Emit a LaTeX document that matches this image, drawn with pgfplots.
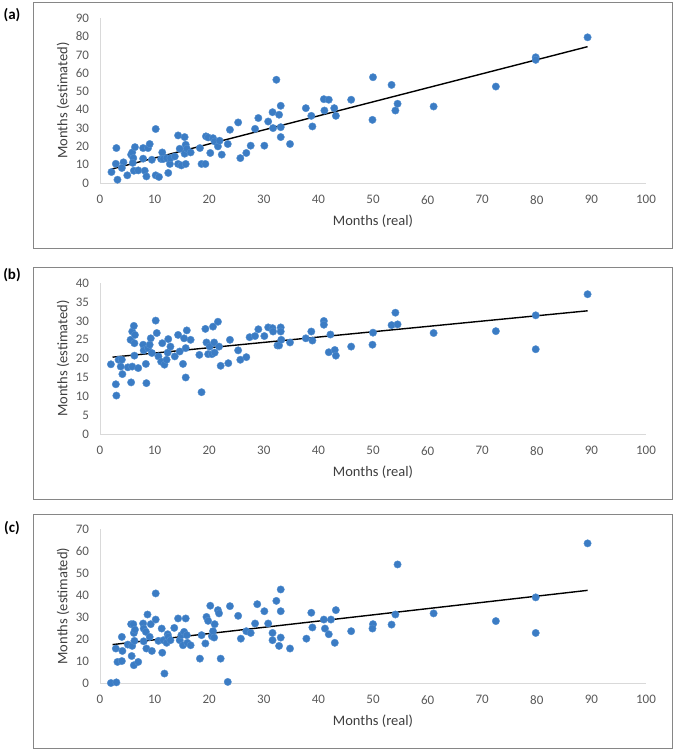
\documentclass[border=0pt]{standalone}
\usepackage{pgfplots}
\pgfplotsset{compat=1.18}
\usepackage{fontspec}
\setmainfont{Carlito}
\definecolor{dotfill}{HTML}{3B7CC4}
\definecolor{dotedge}{HTML}{5590D0}
\definecolor{axgray}{HTML}{D9D9D9}
\definecolor{txtgray}{HTML}{595959}
\definecolor{framegray}{HTML}{868686}
\pgfplotsset{
  panel/.style={
    scale only axis, width=546pt, anchor=south west,
    xmin=0, xmax=100, ymin=0, clip=false,
    xtick={0,10,...,100},
    axis x line=bottom, axis y line=left,
    axis line style={draw=axgray, line width=1pt, -},
    major tick length=0pt,
    /pgf/number format/assume math mode=true,
    ticklabel style={font=\fontsize{13}{15}\selectfont, text=txtgray},
    xticklabel shift=9pt, yticklabel shift=7.5pt,
    label style={font=\fontsize{14.5}{17}\selectfont, text=txtgray!70!black},
    xlabel={Months (real)}, ylabel={Months (estimated)},
    xlabel style={at={(rel axis cs:0.5,0)}, anchor=center, yshift=-38.5pt},
    ylabel style={at={(rel axis cs:0,0.5)}, anchor=center, rotate=0, yshift=37pt},
  },
  dots/.style={only marks, mark=*, mark size=3.7pt,
    mark options={fill=dotfill, draw=dotedge, line width=0.4pt}},
  trend/.style={no marks, black, line width=1.4pt},
}
\begin{document}
\begin{tikzpicture}
\path[use as bounding box] (0,0) rectangle (675pt,-751pt);
\draw[framegray, line width=1pt] (33pt,-2.5pt) rectangle (672pt,-248pt);
\draw[framegray, line width=1pt] (33pt,-267pt) rectangle (672pt,-499pt);
\draw[framegray, line width=1pt] (33pt,-514pt) rectangle (672pt,-748pt);
\node[font=\fontsize{15}{18}\selectfont\bfseries] at (12pt,-15pt) {(a)};
\node[font=\fontsize{15}{18}\selectfont\bfseries] at (12pt,-275pt) {(b)};
\node[font=\fontsize{15}{18}\selectfont\bfseries] at (12pt,-528pt) {(c)};

% ---------- (a) ----------
\begin{axis}[panel, at={(100pt,-183pt)}, height=164.7pt, ymax=90, ytick={0,10,...,90}]
\addplot[dots] coordinates {
(2.1,6.0)(3.0,19.1)(2.9,10.5)(3.2,1.8)(4.3,11.3)(4.0,8.2)(5.0,4.2)(5.7,15.5)
(5.9,16.7)(6.1,13.6)(6.2,6.7)(6.4,19.6)(6.0,11.0)(7.0,6.9)(7.9,19.1)(7.9,13.3)
(8.2,6.7)(8.5,3.6)(8.8,19.1)(9.1,21.3)(9.5,12.7)(10.2,29.5)(10.2,4.2)(10.8,3.3)
(11.2,13.1)(11.4,16.7)(11.6,13.1)(12.5,5.5)(12.2,13.6)(12.8,10.4)(12.9,13.6)(13.7,14.5)
(14.3,26.0)(14.3,10.4)(14.9,9.6)(14.6,18.7)(15.5,25.1)(15.5,16.0)(15.7,10.4)(15.7,20.9)
(15.9,18.7)(16.6,16.7)(18.3,19.1)(18.6,10.4)(19.3,10.4)(19.4,25.5)(19.8,24.9)(20.2,16.4)
(20.7,24.5)(21.0,22.7)(21.6,20.0)(21.9,23.1)(22.3,15.5)(23.4,21.3)(23.8,29.1)(25.3,33.1)
(25.7,13.6)(26.8,16.4)(27.6,20.4)(28.4,29.6)(29.0,35.5)(30.1,20.4)(30.8,33.6)(31.6,38.7)
(31.7,30.0)(32.3,56.4)(32.8,37.3)(33.1,42.2)(33.1,30.5)(33.1,25.1)(34.8,21.3)(37.7,40.9)
(38.7,36.7)(38.9,30.9)(41.0,45.8)(41.9,45.5)(41.1,39.6)(42.9,40.9)(43.2,36.7)(46.0,45.5)
(50.0,57.8)(49.9,34.5)(53.4,53.6)(54.5,43.3)(54.1,39.6)(61.1,41.8)(72.5,52.7)(79.8,68.7)
(79.8,67.3)(89.3,79.6)
};
\addplot[trend] coordinates {(2.1,7.6)(89.3,74.5)};
\end{axis}

% ---------- (b) ----------
\begin{axis}[panel, at={(100pt,-434pt)}, height=150.7pt, ymax=40, ytick={0,5,...,40}]
\addplot[dots] coordinates {
(2.0,18.5)(2.9,13.2)(3.0,10.2)(3.4,19.7)(4.0,19.7)(3.8,17.9)(4.1,15.9)(5.1,17.7)
(5.6,25.0)(5.7,13.7)(5.9,27.2)(5.9,17.9)(6.2,28.7)(6.3,24.1)(6.4,26.3)(6.3,20.8)
(7.0,17.5)(7.9,23.7)(8.0,22.2)(8.4,18.6)(8.5,13.5)(8.8,22.8)(9.1,23.7)(9.3,25.4)
(9.5,21.5)(10.2,30.1)(10.4,26.8)(10.7,20.6)(11.2,19.2)(11.4,24.1)(11.8,18.4)(12.2,19.7)
(12.4,21.6)(12.5,25.2)(12.9,23.2)(13.7,20.6)(14.3,26.3)(14.6,21.9)(15.2,18.6)(15.4,25.4)
(15.7,15.0)(15.7,22.8)(15.9,27.5)(16.6,25.0)(18.2,21.0)(18.6,11.1)(19.3,27.9)(19.5,24.3)
(19.8,21.2)(20.1,23.2)(20.5,21.2)(20.7,28.5)(20.9,24.3)(21.0,21.6)(21.6,29.8)(21.8,23.2)
(22.1,18.1)(23.5,18.8)(23.8,25.0)(25.3,22.2)(25.7,19.7)(26.8,20.4)(27.4,25.7)(28.4,26.0)
(29.0,27.8)(30.1,26.0)(30.8,28.3)(31.6,28.1)(31.7,27.2)(32.5,23.5)(32.8,23.5)(33.1,28.3)
(33.1,27.2)(33.2,25.0)(34.8,24.3)(37.7,25.4)(38.7,27.2)(38.9,24.8)(41.0,30.0)(41.0,29.0)
(41.9,21.7)(42.2,26.4)(43.0,22.3)(43.2,20.8)(46.0,23.2)(50.0,26.9)(49.9,23.7)(53.4,28.9)
(54.1,32.2)(54.5,29.1)(61.1,26.8)(72.5,27.3)(79.8,31.5)(79.8,22.5)(89.3,37.1)
};
\addplot[trend] coordinates {(2.3,20.4)(89.3,32.7)};
\end{axis}

% ---------- (c) ----------
\begin{axis}[panel, at={(100pt,-683pt)}, height=153.7pt, ymax=70, ytick={0,10,...,70}]
\addplot[dots] coordinates {
(2.0,0.0)(3.0,0.3)(2.9,15.7)(3.2,9.6)(4.0,21.0)(4.0,10.0)(4.1,14.6)(5.1,17.5)
(5.7,26.8)(5.8,12.3)(5.9,16.9)(6.1,26.8)(6.2,22.8)(6.4,24.3)(6.2,8.1)(6.3,19.2)
(7.0,9.6)(7.9,27.1)(8.0,24.8)(8.0,19.0)(8.4,23.3)(8.5,15.7)(8.7,31.2)(9.1,21.0)
(9.3,26.8)(9.5,14.6)(10.2,40.8)(10.2,28.9)(10.7,19.2)(11.3,24.8)(11.4,13.8)(11.8,4.3)
(11.6,19.5)(12.2,18.3)(12.4,22.2)(12.5,21.0)(12.9,19.5)(13.6,25.1)(14.3,29.4)(14.6,19.5)
(14.9,21.8)(15.2,17.2)(15.4,23.3)(15.7,29.4)(15.9,21.8)(16.0,18.3)(16.6,17.2)(18.3,11.1)
(18.6,21.8)(19.3,18.0)(19.5,30.1)(19.8,28.3)(20.2,35.2)(20.5,21.3)(20.7,23.6)(20.9,20.7)
(21.0,26.8)(21.6,33.2)(21.8,31.7)(22.1,11.1)(23.4,0.5)(23.8,35.0)(25.3,30.6)(25.8,20.2)
(26.8,23.6)(27.6,22.8)(28.4,27.1)(28.8,35.9)(30.1,32.7)(30.8,27.1)(31.6,22.8)(31.6,19.5)
(32.3,37.4)(32.8,16.9)(33.1,42.6)(33.1,32.7)(33.1,20.7)(34.8,15.7)(37.8,20.2)(38.7,32.0)
(38.9,25.3)(41.0,28.9)(41.2,24.8)(41.9,22.2)(42.3,28.9)(43.0,18.3)(43.2,33.2)(46.0,23.6)
(50.0,26.8)(49.9,24.8)(53.4,26.6)(54.1,31.2)(54.5,54.0)(61.1,31.7)(72.5,28.2)(79.8,39.0)
(79.8,22.8)(89.3,63.6)
};
\addplot[trend] coordinates {(2.3,17.5)(89.3,42.2)};
\end{axis}
\end{tikzpicture}
\end{document}
